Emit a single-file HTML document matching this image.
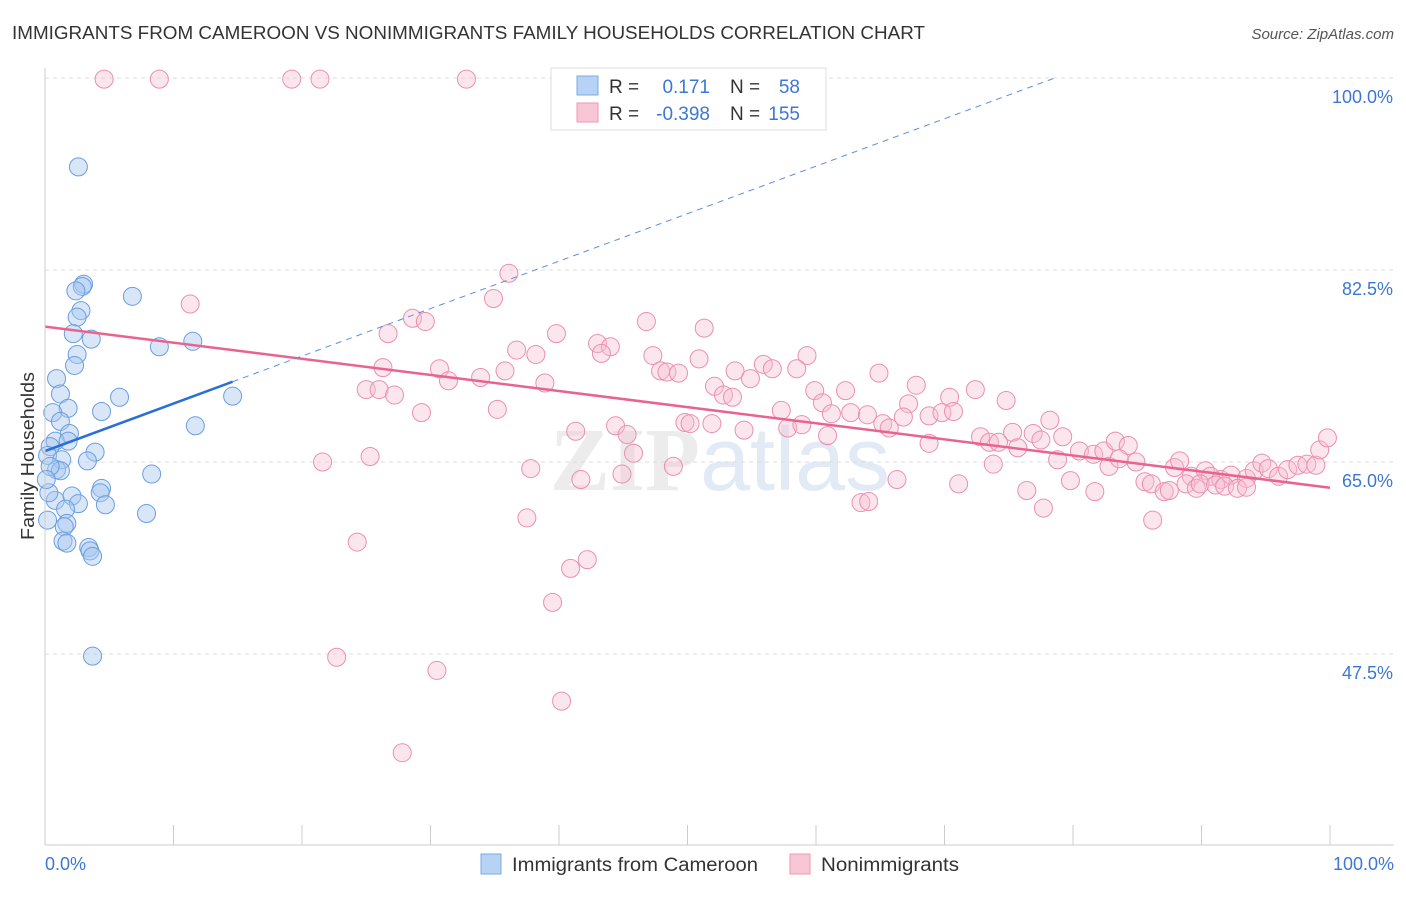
<!DOCTYPE html>
<html><head><meta charset="utf-8"><style>
body{margin:0;background:#fff;width:1406px;height:892px;overflow:hidden;font-family:"Liberation Sans",sans-serif}
</style></head><body>
<svg id="chart" width="1406" height="892" xmlns="http://www.w3.org/2000/svg">
<text x="12" y="39" font-size="18" fill="#333" textLength="913" lengthAdjust="spacingAndGlyphs">IMMIGRANTS FROM CAMEROON VS NONIMMIGRANTS FAMILY HOUSEHOLDS CORRELATION CHART</text>
<text x="1394" y="39" font-size="15" fill="#555" font-style="italic" text-anchor="end">Source: ZipAtlas.com</text>
<text x="720" y="490" font-size="90" fill="#ececec" text-anchor="middle" font-family="Liberation Serif,serif" font-weight="bold">ZIP<tspan fill="#e2eaf6" font-family="Liberation Sans,sans-serif" font-weight="normal">atlas</tspan></text>
<text transform="translate(34,456) rotate(-90)" font-size="18" fill="#333" text-anchor="middle" textLength="168" lengthAdjust="spacingAndGlyphs">Family Households</text>
<g id="grid"></g><g id="ticks"></g><g id="pts"></g><g id="lines"></g>
<line x1="45" y1="68" x2="45" y2="845" stroke="#ccc"/>
<line x1="45" y1="845" x2="1394" y2="845" stroke="#ccc"/>
<text x="45" y="870" font-size="18" fill="#3d77d6">0.0%</text>
<text x="1394" y="870" font-size="18" fill="#3d77d6" text-anchor="end">100.0%</text>
<g>
<rect x="551" y="68" width="275" height="62" fill="#fff" stroke="#ddd"/>
<rect x="577" y="76" width="21" height="19" fill="#b6d2f4" stroke="#7fa9e3"/>
<rect x="577" y="103" width="21" height="19" fill="#f9c6d6" stroke="#eb9ab5"/>
<text x="609" y="93" font-size="19" fill="#333">R =</text><text x="710" y="93" font-size="19" fill="#3d77d6" text-anchor="end">0.171</text>
<text x="730" y="93" font-size="19" fill="#333">N =</text><text x="800" y="93" font-size="19" fill="#3d77d6" text-anchor="end">58</text>
<text x="609" y="120" font-size="19" fill="#333">R =</text><text x="710" y="120" font-size="19" fill="#3d77d6" text-anchor="end">-0.398</text>
<text x="730" y="120" font-size="19" fill="#333">N =</text><text x="800" y="120" font-size="19" fill="#3d77d6" text-anchor="end">155</text>
</g>
<g>
<rect x="481" y="854" width="20" height="20" fill="#b6d2f4" stroke="#7fa9e3"/>
<text x="512" y="871" font-size="19" fill="#333" textLength="246" lengthAdjust="spacingAndGlyphs">Immigrants from Cameroon</text>
<rect x="790" y="854" width="20" height="20" fill="#f9c6d6" stroke="#eb9ab5"/>
<text x="821" y="871" font-size="19" fill="#333" textLength="138" lengthAdjust="spacingAndGlyphs">Nonimmigrants</text>
</g>
</svg>
<script>
const yTicks=[100,82.5,65,47.5];
const yTickLabels=["100.0%","82.5%","65.0%","47.5%"];
const xTickValues=[0,10,20,30,40,50,60,70,80,90,100];
const blueX=[2.6,3.0,2.9,2.4,6.8,2.8,2.5,2.2,3.6,8.9,11.5,2.5,2.3,0.9,1.2,5.8,14.6,1.8,0.6,4.4,1.2,11.7,1.9,0.8,1.8,0.4,3.9,3.3,0.2,1.3,0.9,1.2,8.3,4.4,4.3,2.1,0.8,2.6,4.7,1.6,7.9,1.7,1.5,1.4,1.7,3.4,3.5,3.7,3.7,0.2,0.3,0.4,0.1];
const blueY=[91.9,81.2,81.0,80.6,80.1,78.8,78.2,76.7,76.2,75.5,76.0,74.8,73.8,72.6,71.2,70.9,71.0,69.9,69.5,69.6,68.7,68.3,67.6,66.9,66.9,66.4,65.9,65.1,65.6,65.2,64.3,64.2,63.9,62.6,62.2,61.9,61.5,61.2,61.1,60.7,60.3,59.4,59.1,57.8,57.6,57.2,56.9,56.4,47.3,59.7,62.2,64.6,63.4];
const pinkX=[4.6,8.9,19.2,21.4,32.8,36.1,34.9,11.3,28.6,29.6,46.8,51.3,39.8,26.7,43.0,44.0,36.7,38.2,43.3,47.3,50.9,26.3,30.7,33.9,35.8,47.9,48.4,49.3,55.9,56.6,59.3,58.5,53.7,54.9,64.9,38.9,25.0,26.0,27.2,31.4,52.1,52.8,53.5,59.9,62.3,67.8,72.4,74.8,35.2,29.3,57.3,60.5,61.2,62.7,64.0,67.2,70.4,68.8,69.8,70.7,78.2,41.3,44.4,45.3,49.8,50.2,51.9,54.4,57.8,58.9,60.9,65.2,65.7,66.8,68.8,72.8,73.5,74.2,75.3,75.7,76.9,77.5,79.2,80.5,81.6,82.4,83.3,84.3,84.9,78.8,82.8,83.6,87.9,88.3,89.2,90.3,90.7,91.5,92.3,93.5,94.1,94.7,95.2,96.0,96.7,97.5,98.2,98.9,99.2,99.8,21.6,25.3,45.8,48.9,37.8,41.7,44.9,73.8,66.3,71.1,85.6,86.1,87.1,87.5,88.8,89.6,89.9,91.1,91.8,92.8,93.5,79.8,76.4,81.7,63.5,64.1,77.7,86.2,37.5,24.3,42.2,40.9,39.5,22.7,30.5,40.2,27.8];
const pinkY=[99.9,99.9,99.9,99.9,99.9,82.2,79.9,79.4,78.1,77.8,77.8,77.2,76.7,76.7,75.8,75.5,75.2,74.8,74.9,74.7,74.4,73.6,73.5,72.7,73.3,73.3,73.2,73.1,73.9,73.5,74.7,73.5,73.3,72.6,73.1,72.2,71.6,71.6,71.1,72.4,71.9,71.1,70.9,71.5,71.5,72.0,71.6,70.6,69.8,69.5,69.7,70.4,69.4,69.5,69.3,70.3,70.9,69.2,69.5,69.6,68.8,67.8,68.3,67.5,68.6,68.5,68.5,67.9,68.1,68.4,67.4,68.5,68.1,69.1,66.7,67.3,66.8,66.8,67.7,66.3,67.6,67.0,67.3,66.0,65.7,66.0,66.9,66.5,65.0,65.2,64.6,65.3,64.5,65.1,63.7,64.2,63.7,63.4,63.8,63.5,64.2,64.9,64.4,63.7,64.3,64.7,64.8,64.7,66.1,67.2,65.0,65.5,65.8,64.6,64.4,63.4,63.9,64.8,63.4,63.0,63.2,63.0,62.3,62.4,63.0,62.6,63.0,62.9,62.8,62.6,62.7,63.3,62.4,62.3,61.3,61.4,60.8,59.7,59.9,57.7,56.1,55.3,52.2,47.2,46.0,43.2,38.5];
const NS='http://www.w3.org/2000/svg';
const X0=45,X1=1330,Y100=78,PXPER=10.971;
function sx(v){return X0+(X1-X0)*v/100;}
function sy(v){return Y100+(100-v)*PXPER;}
function mk(tag,attrs,parent){const e=document.createElementNS(NS,tag);for(const k in attrs)e.setAttribute(k,attrs[k]);document.getElementById(parent).appendChild(e);return e;}
yTicks.forEach((t,i)=>{
 const l=mk('line',{x1:45,x2:1394,y1:sy(t),y2:sy(t),stroke:'#ddd','stroke-dasharray':'4,4'},'grid');
 
 
 const tx=mk('text',{x:1393,y:sy(t)+25,'font-size':18,fill:'#3d77d6','text-anchor':'end'},'grid');
 tx.textContent=yTickLabels[i];
 
 
});
xTickValues.forEach(t=>{
 const l=mk('line',{x1:sx(t),x2:sx(t),y1:825,y2:845,stroke:'#ccc'},'ticks');
 
 
});
function draw(xs,ys,fill,stroke,op,name){
 xs.forEach((x,i)=>{const c=mk('circle',{cx:sx(x),cy:sy(ys[i]),r:9,fill:fill,'fill-opacity':op,stroke:stroke,'stroke-width':1},'pts');
 
 });
}
draw(pinkX,pinkY,'#f7bccf','#eb8fae',0.38,'nonimmigrant-point');
draw(blueX,blueY,'#a9c8f0','#6a9ee0',0.45,'cameroon-point');
function fit(xs,ys){const n=xs.length;let mx=0,my=0;xs.forEach((x,i)=>{mx+=x;my+=ys[i];});mx/=n;my/=n;let sxy=0,sxx=0;xs.forEach((x,i)=>{sxy+=(x-mx)*(ys[i]-my);sxx+=(x-mx)**2;});const b=sxy/sxx;return [my-b*mx,b];}
const [pa,pb]=fit(pinkX,pinkY);
const pl=mk('line',{x1:sx(0),y1:sy(pa),x2:sx(100),y2:sy(pa+pb*100),stroke:'#e8648f','stroke-width':2.5},'lines');


const [ba,bb]=fit(blueX,blueY);
const bmax=Math.max(...blueX);
const bl=mk('line',{x1:sx(0),y1:sy(ba),x2:sx(bmax),y2:sy(ba+bb*bmax),stroke:'#2a6fd6','stroke-width':2.5},'lines');


let xe=100; if(bb>0&&ba+bb*100>100) xe=(100-ba)/bb;
const bd=mk('line',{x1:sx(bmax),y1:sy(ba+bb*bmax),x2:sx(xe),y2:sy(ba+bb*xe),stroke:'#5b8fdc','stroke-width':1,'stroke-dasharray':'6,5'},'lines');


</script>
</body></html>
